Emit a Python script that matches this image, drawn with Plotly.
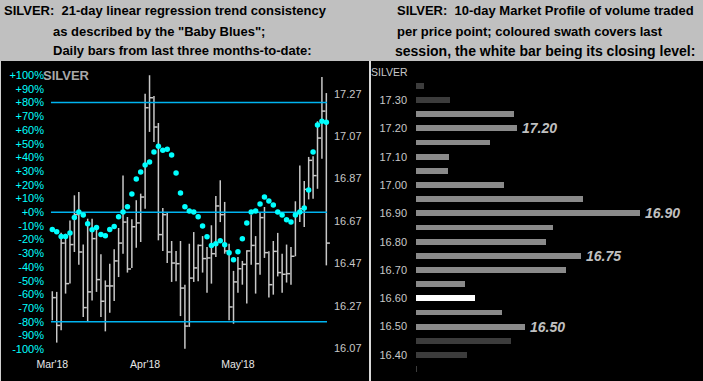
import plotly.graph_objects as go

# ---------------- DATA ----------------
month_ticks = [0, 21, 42]
month_labels = ["Mar'18", "Apr'18", "May'18"]

highs = [16.339, 16.336, 16.615, 16.610, 16.673, 16.791, 16.807, 16.559, 16.681, 16.681,
         16.650, 16.513, 16.390, 16.469, 16.537, 16.637, 16.885, 16.689, 16.678, 16.768,
         16.799, 17.270, 17.357, 17.259, 17.132, 16.731, 16.709, 16.576, 16.529, 16.576,
         16.370, 16.563, 16.618, 16.559, 16.599, 16.548, 16.650, 16.788, 16.862, 16.760,
         16.563, 16.435, 16.500, 16.482, 16.532, 16.700, 16.599, 16.713, 16.736, 16.527,
         16.576, 16.614, 16.516, 16.559, 16.548, 16.763, 16.932, 16.859, 16.972, 16.975,
         17.140, 17.349, 17.273]
lows = [16.202, 16.097, 16.155, 16.328, 16.375, 16.524, 16.464, 16.218, 16.194, 16.296,
        16.336, 16.218, 16.150, 16.238, 16.293, 16.406, 16.516, 16.427, 16.449, 16.544,
        16.571, 16.728, 17.090, 17.042, 16.579, 16.529, 16.472, 16.383, 16.386, 16.222,
        16.068, 16.171, 16.383, 16.386, 16.427, 16.332, 16.375, 16.500, 16.665, 16.516,
        16.202, 16.186, 16.332, 16.370, 16.281, 16.464, 16.328, 16.417, 16.496, 16.309,
        16.323, 16.409, 16.332, 16.380, 16.370, 16.504, 16.665, 16.642, 16.772, 16.775,
        16.822, 16.964, 16.461]
closes = [16.309, 16.178, 16.566, 16.375, 16.559, 16.700, 16.524, 16.262, 16.336, 16.587,
          16.394, 16.292, 16.364, 16.364, 16.482, 16.566, 16.665, 16.444, 16.643, 16.661,
          16.783, 17.204, 17.251, 17.113, 16.606, 16.700, 16.524, 16.472, 16.469, 16.354,
          16.175, 16.401, 16.449, 16.555, 16.493, 16.496, 16.516, 16.741, 16.700, 16.529,
          16.265, 16.383, 16.445, 16.466, 16.529, 16.555, 16.469, 16.686, 16.521, 16.370,
          16.527, 16.427, 16.419, 16.422, 16.504, 16.705, 16.728, 16.819, 16.956, 16.884,
          17.061, 17.188, 16.566]
baby_blues = [-12.6, -14.3, -17.7, -17.7, -15.1, -3.9, 0.2, -2.0, -8.5, -12.9,
              -11.2, -16.3, -17.2, -12.6, -10.5, -3.4, 0.2, 3.9, 13.3, 24.2,
              29.3, 34.4, 36.6, 43.9, 48.2, 45.3, 46.0, 41.7, 28.6, 14.0,
              3.9, 0.9, 0.2, -3.4, -10.0, -18.0, -24.3, -23.1, -20.9, -23.8,
              -29.6, -34.7, -28.9, -19.4, -7.8, 0.2, 0.9, 6.0, 11.1, 8.2,
              5.3, 0.2, -2.0, -5.6, -7.1, -2.0, 0.2, 3.1, 16.2, 43.9,
              63.7, 66.4, 65.7]
band_levels = [80, 0, -80]
pct_ticks = list(range(-100, 101, 10))
price_ticks = [16.07, 16.27, 16.47, 16.67, 16.87, 17.07, 17.27]

profile_prices = [17.35, 17.30, 17.25, 17.20, 17.15, 17.10, 17.05, 17.00, 16.95, 16.90,
                  16.85, 16.80, 16.75, 16.70, 16.65, 16.60, 16.55, 16.50, 16.45, 16.40, 16.35]
profile_volume = [8, 34, 98, 101, 74, 33, 32, 88, 167, 224,
                  137, 130, 165, 150, 49, 59, 86, 109, 95, 51, 1]
session_low, session_high = 16.50, 17.25
session_close = 16.60
profile_labels = [17.20, 16.90, 16.75, 16.50]
profile_ticks = [16.40, 16.50, 16.60, 16.70, 16.80, 16.90, 17.00, 17.10, 17.20, 17.30]

# ---------------- LAYOUT HELPERS ----------------
W, H = 703, 381
def fx(p): return p / W
def fy(p): return 1 - p / H

fig = go.Figure()

# HLC bars
bx, by = [], []
for i, (h, l, c) in enumerate(zip(highs, lows, closes)):
    bx += [i, i, None, i, i + 0.8, None]
    by += [l, h, None, c, c, None]
fig.add_trace(go.Scatter(x=bx, y=by, mode="lines", line=dict(color="#c8c8c8", width=1.5),
                         xaxis="x", yaxis="y", hoverinfo="skip", showlegend=False))

# band lines
n = len(closes)
for lv in band_levels:
    fig.add_trace(go.Scatter(x=[-0.3, n - 0.85], y=[lv, lv], mode="lines",
                             line=dict(color="#00b4f0", width=1.5),
                             xaxis="x", yaxis="y2", hoverinfo="skip", showlegend=False))

# baby blues
fig.add_trace(go.Scatter(x=list(range(n)), y=baby_blues, mode="markers",
                         marker=dict(color="#00ffff", size=5.5, line=dict(width=0)),
                         xaxis="x", yaxis="y2", showlegend=False))

# market profile
colors = []
for p in profile_prices:
    if abs(p - session_close) < 1e-6:
        colors.append("#ffffff")
    elif session_low - 1e-6 <= p <= session_high + 1e-6:
        colors.append("#8a8a8a")
    else:
        colors.append("#3c3c3c")
fig.add_trace(go.Bar(x=profile_volume, y=profile_prices, orientation="h", width=0.021,
                     marker=dict(color=colors, line=dict(width=0)),
                     xaxis="x3", yaxis="y3", showlegend=False))

annotations = []
for lv in profile_labels:
    v = profile_volume[[round(p, 2) for p in profile_prices].index(round(lv, 2))]
    annotations.append(dict(x=v, y=lv, xref="x3", yref="y3", xanchor="left", yanchor="middle",
                            xshift=3, showarrow=False, text="<b><i>%.2f</i></b>" % lv,
                            font=dict(family="Arial, Liberation Sans", size=14, color="#c0c0c0")))

for (x, y, t, s) in [(2, 10, "SILVER:  21-day linear regression trend consistency", 13),
                     (51, 31, "as described by the \"Baby Blues\";", 13),
                     (51, 51, "Daily bars from last three months-to-date:", 13),
                     (395, 10, "SILVER:  10-day Market Profile of volume traded", 13),
                     (395, 31, "per price point; coloured swath covers last", 13),
                     (393, 51, "session, the white bar being its closing level:", 14)]:
    annotations.append(dict(x=fx(x), y=fy(y), xref="paper", yref="paper", xanchor="left",
                            yanchor="middle", showarrow=False, text="<b>%s</b>" % t,
                            font=dict(family="Arial, Liberation Sans", size=s, color="#000000")))

annotations.append(dict(x=fx(41), y=fy(76), xref="paper", yref="paper", xanchor="left",
                        yanchor="middle", showarrow=False, text="<b>SILVER</b>",
                        font=dict(family="Arial, Liberation Sans", size=13, color="#a8a8a8")))
annotations.append(dict(x=fx(369), y=fy(72), xref="paper", yref="paper", xanchor="left",
                        yanchor="middle", showarrow=False, text="SILVER",
                        font=dict(family="Arial, Liberation Sans", size=10.5, color="#c8c8c8")))

shapes = [
    dict(type="rect", xref="paper", yref="paper", x0=fx(0), x1=fx(369), y0=fy(381), y1=fy(61),
         fillcolor="#000000", line=dict(width=0), layer="below"),
    dict(type="rect", xref="paper", yref="paper", x0=fx(371), x1=fx(703), y0=fy(381), y1=fy(61),
         fillcolor="#000000", line=dict(width=0), layer="below"),
    dict(type="line", xref="paper", yref="paper", x0=fx(0.5), x1=fx(0.5), y0=fy(381), y1=fy(61),
         line=dict(color="#d0d0d0", width=1), layer="below"),
    dict(type="line", xref="paper", yref="paper", x0=fx(370), x1=fx(370), y0=fy(381), y1=fy(61),
         line=dict(color="#e8e8e8", width=1.2), layer="below"),
]

# left panel mapping
x0px, x1px = 45, 333
i_per_px = 1 / 4.42
xr = [(x0px - 52.3) * i_per_px, (x1px - 52.3) * i_per_px]
top_px, bot_px = 62, 356
pct_r = [(212.2 - bot_px) / 1.37, (212.2 - top_px) / 1.37]
price_r = [17.27 - (bot_px - 93.7) / 212.2, 17.27 - (top_px - 93.7) / 212.2]

def pct_txt(v):
    return ("+%d%%" % v) if v >= 0 else ("%d%%" % v)

fig.update_layout(
    width=W, height=H, margin=dict(l=0, r=0, t=0, b=0, pad=0, autoexpand=False),
    paper_bgcolor="#c0c0c0", plot_bgcolor="rgba(0,0,0,0)",
    font=dict(family="Arial, Liberation Sans"),
    xaxis=dict(domain=[fx(x0px), fx(x1px)], range=xr, tickvals=month_ticks, ticktext=month_labels,
               showgrid=False, zeroline=False, showline=False, ticks="", automargin=False,
               tickfont=dict(size=10.5, color="#e8e8e8"), anchor="y", fixedrange=True),
    yaxis=dict(domain=[fy(bot_px), fy(top_px)], range=price_r, side="right", anchor="x",
               tickvals=price_ticks, ticktext=["%.2f" % v for v in price_ticks],
               showgrid=False, zeroline=False, showline=False, ticks="", automargin=False,
               tickfont=dict(size=11, color="#c8c8c8")),
    yaxis2=dict(range=pct_r, overlaying="y", side="left", anchor="x",
                tickvals=pct_ticks, ticktext=[pct_txt(v) for v in pct_ticks],
                showgrid=False, zeroline=False, showline=False, ticks="", automargin=False,
                tickfont=dict(size=11, color="#00ffff")),
    xaxis3=dict(domain=[fx(416), fx(703)], range=[0, 287], visible=False, anchor="y3",
                automargin=False),
    yaxis3=dict(domain=[fy(381), fy(62)],
                range=[17.30 - (381 - 100) / 283.3, 17.30 - (62 - 100) / 283.3],
                anchor="x3", tickvals=profile_ticks, ticktext=["%.2f" % v for v in profile_ticks],
                showgrid=False, zeroline=False, showline=False, ticks="", automargin=False,
                ticklabelstandoff=8, tickfont=dict(size=11, color="#c8c8c8")),
    bargap=0, shapes=shapes, annotations=annotations,
)

post = ("document.documentElement.style.margin='0';document.documentElement.style.padding='0';"
        "document.body.style.margin='0';document.body.style.padding='0';"
        "document.body.style.overflow='hidden';"
        "var gd=document.getElementById('{plot_id}');gd.style.position='absolute';"
        "gd.style.left='0px';gd.style.top='0px';")
fig.write_html("out.html", config={"displayModeBar": False}, post_script=post)
